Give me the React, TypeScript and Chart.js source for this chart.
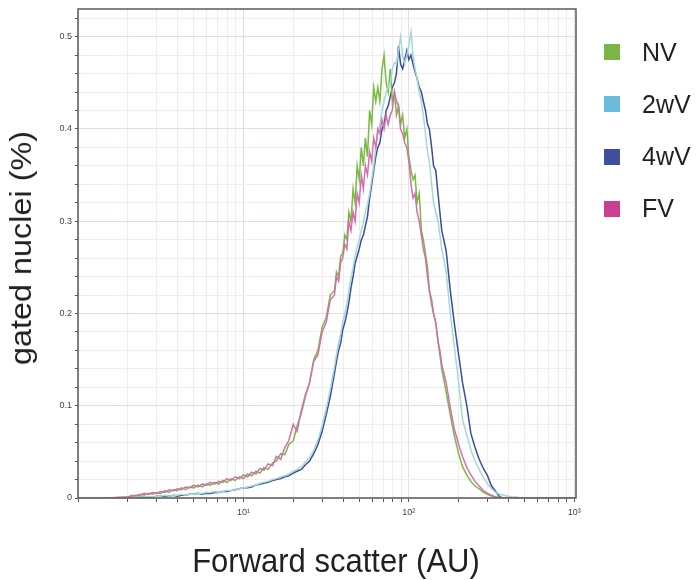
import React, { useEffect, useRef } from "react";
import { Chart, registerables } from "chart.js";

Chart.register(...registerables);

// Forward scatter channel values (AU), shared by every series
const forwardScatter = [
  1, 1.5,
  2.0, 2.11, 2.24, 2.37, 2.51, 2.66, 2.82, 2.99, 3.16, 3.35, 3.55, 3.76, 3.98, 4.22, 4.47, 4.73, 5.01, 5.31, 5.62, 5.96,
  6.31, 6.68, 7.08, 7.5, 7.94, 8.41, 8.91, 9.44,
  10.0, 10.6, 11.2, 11.9, 12.6, 13.3, 14.1, 15.0, 15.8, 16.8, 17.8, 18.8, 20.0, 21.1, 22.4, 23.7, 25.1, 26.6, 28.2, 29.9,
  31.6, 33.5, 35.5,
  36.5, 37.6, 38.7, 39.8, 41.0, 42.2, 43.4, 44.7, 46.0, 47.3, 48.7, 50.1, 51.6, 53.1, 54.6, 56.2, 57.9, 59.6, 61.3, 63.1,
  64.9, 66.8, 68.8, 70.8, 72.9, 75.0, 77.2, 79.4, 81.8, 84.1, 86.6, 89.1, 91.7, 94.4, 97.2, 100, 103, 106, 109, 112,
  115.5, 119, 122.3, 126, 129.6, 133, 137.3, 141, 145.4, 150, 154, 158,
  168, 178, 188, 200, 211, 224, 237, 251, 266, 282, 299, 316, 335, 355, 376, 398, 422, 447, 473, 501,
  700, 1024,
];

const nvValues = [
  0, 0,
  0.001, 0.003, 0.002, 0.004, 0.003, 0.005, 0.004, 0.006, 0.005, 0.008, 0.006, 0.009, 0.008, 0.011, 0.009, 0.012, 0.011, 0.014,
  0.012, 0.015, 0.014, 0.017, 0.015, 0.019, 0.017, 0.021, 0.019, 0.023,
  0.021, 0.026, 0.024, 0.029, 0.027, 0.033, 0.031, 0.038, 0.04, 0.048, 0.047, 0.058, 0.062, 0.078, 0.092, 0.11, 0.125, 0.15,
  0.16, 0.185, 0.195, 0.22, 0.225,
  0.245, 0.24, 0.262, 0.265, 0.285, 0.28, 0.31, 0.3, 0.335, 0.32, 0.36, 0.345, 0.38, 0.36, 0.39, 0.37, 0.42, 0.405, 0.445, 0.43,
  0.445, 0.43, 0.465, 0.48, 0.45, 0.44, 0.465, 0.43, 0.44, 0.415, 0.425, 0.405, 0.415, 0.39, 0.4, 0.37, 0.355, 0.345, 0.35, 0.32,
  0.33, 0.29, 0.28, 0.265, 0.25, 0.225, 0.215, 0.2, 0.19, 0.17, 0.155, 0.14,
  0.115, 0.09, 0.068, 0.048, 0.034, 0.025, 0.018, 0.013, 0.01, 0.006, 0.004, 0.002, 0.001, 0, 0, 0, 0, 0, 0, 0,
  0, 0,
];

const twoWvValues = [
  0, 0,
  0, 0, 0.001, 0.001, 0.001, 0.002, 0.001, 0.002, 0.002, 0.003, 0.002, 0.003, 0.003, 0.004, 0.003, 0.004, 0.004, 0.005,
  0.005, 0.006, 0.006, 0.007, 0.006, 0.007, 0.008, 0.008, 0.009, 0.01,
  0.011, 0.012, 0.013, 0.014, 0.016, 0.017, 0.018, 0.02, 0.021, 0.023, 0.024, 0.026, 0.029, 0.031, 0.034, 0.039, 0.044, 0.052,
  0.063, 0.078, 0.096, 0.118, 0.142,
  0.155, 0.168, 0.178, 0.19, 0.2, 0.21, 0.225, 0.238, 0.25, 0.262, 0.272, 0.28, 0.29, 0.298, 0.31, 0.318, 0.33, 0.345, 0.36, 0.38,
  0.395, 0.405, 0.42, 0.43, 0.44, 0.445, 0.45, 0.465, 0.472, 0.47, 0.485, 0.5, 0.48, 0.47, 0.48, 0.49, 0.505, 0.48, 0.465, 0.455,
  0.44, 0.43, 0.415, 0.395, 0.375, 0.365, 0.34, 0.32, 0.31, 0.3, 0.285, 0.27,
  0.245, 0.2, 0.165, 0.125, 0.085, 0.068, 0.052, 0.04, 0.031, 0.022, 0.015, 0.01, 0.006, 0.004, 0.003, 0.002, 0.001, 0.001, 0, 0,
  0, 0,
];

const fourWvValues = [
  0, 0,
  0, 0, 0.001, 0.001, 0.001, 0.001, 0.001, 0.002, 0.002, 0.002, 0.002, 0.003, 0.002, 0.003, 0.003, 0.004, 0.004, 0.005,
  0.004, 0.005, 0.005, 0.006, 0.006, 0.007, 0.007, 0.008, 0.009, 0.01,
  0.011, 0.011, 0.012, 0.014, 0.015, 0.016, 0.017, 0.019, 0.02, 0.021, 0.023, 0.024, 0.027, 0.029, 0.031, 0.036, 0.04, 0.048,
  0.058, 0.072, 0.09, 0.11, 0.135,
  0.148, 0.16, 0.168, 0.182, 0.19, 0.2, 0.212, 0.228, 0.24, 0.254, 0.262, 0.27, 0.28, 0.285, 0.295, 0.305, 0.325, 0.34, 0.355, 0.37,
  0.38, 0.385, 0.4, 0.405, 0.42, 0.425, 0.435, 0.445, 0.45, 0.46, 0.49, 0.47, 0.465, 0.475, 0.485, 0.475, 0.48, 0.47, 0.462, 0.455,
  0.445, 0.44, 0.43, 0.42, 0.405, 0.4, 0.38, 0.36, 0.355, 0.33, 0.31, 0.29,
  0.268, 0.225, 0.19, 0.155, 0.125, 0.1, 0.07, 0.055, 0.042, 0.032, 0.024, 0.013, 0.007, 0.001, 0, 0, 0, 0, 0, 0,
  0, 0,
];

const fvValues = [
  0, 0,
  0.001, 0.002, 0.003, 0.003, 0.005, 0.004, 0.006, 0.005, 0.007, 0.006, 0.009, 0.008, 0.01, 0.009, 0.012, 0.011, 0.014, 0.012,
  0.015, 0.014, 0.017, 0.015, 0.018, 0.017, 0.021, 0.019, 0.023, 0.021,
  0.025, 0.023, 0.028, 0.026, 0.032, 0.03, 0.037, 0.035, 0.045, 0.042, 0.055, 0.062, 0.08, 0.072, 0.095, 0.112, 0.125, 0.148,
  0.155, 0.18, 0.19, 0.215, 0.22,
  0.24, 0.235, 0.255, 0.26, 0.275, 0.27, 0.3, 0.29, 0.31, 0.3, 0.33, 0.32, 0.35, 0.335, 0.36, 0.35, 0.375, 0.365, 0.39, 0.38,
  0.4, 0.395, 0.41, 0.4, 0.415, 0.405, 0.415, 0.42, 0.44, 0.43, 0.425, 0.4, 0.395, 0.385, 0.38, 0.365, 0.34, 0.325, 0.33, 0.31,
  0.3, 0.285, 0.27, 0.26, 0.24, 0.225, 0.21, 0.2, 0.19, 0.17, 0.16, 0.145,
  0.125, 0.098, 0.075, 0.058, 0.045, 0.033, 0.025, 0.018, 0.013, 0.008, 0.005, 0.003, 0.001, 0, 0, 0, 0, 0, 0, 0,
  0, 0,
];

const seriesNames = ["NV", "2wV", "4wV", "FV"];
const legendColors = ["#7ab648", "#6bbde0", "#3f4f9c", "#c9408e"];
const lineColors = ["#78b944", "#a3dad3", "#3b4c9f", "#d46fae"];
const drawOrder = [3, 2, 4, 1];

const xDecades = [10, 100, 1000];
const xTickLabels = ["10\u00b9", "10\u00b2", "10\u00b3"];
const yTickValues = [0, 0.1, 0.2, 0.3, 0.4, 0.5];
const yTickLabels = ["0", "0.1", "0.2", "0.3", "0.4", "0.5"];

const xAxisTitle = "Forward scatter (AU)";
const yAxisTitle = "gated nuclei (%)";

const FONT = "'Liberation Sans', Arial, sans-serif";

export default function App() {
  const canvasRef = useRef<HTMLCanvasElement | null>(null);

  useEffect(() => {
    const canvas = canvasRef.current;
    if (!canvas) return;
    const allSeries = [nvValues, twoWvValues, fourWvValues, fvValues];

    const xTickPositions: number[] = [];
    [1, 10, 100].forEach((d) => {
      for (let m = 1; m <= 9; m++) xTickPositions.push(d * m);
    });
    xTickPositions.push(1000);

    const isDecade = (v: number) => xDecades.indexOf(Math.round(v)) >= 0 || Math.round(v) === 1;
    const isTenth = (v: number) => Math.abs(v * 10 - Math.round(v * 10)) < 1e-6;

    const framePlugin = {
      id: "frame",
      afterDatasetsDraw(chart: any) {
        const { ctx, chartArea } = chart;
        ctx.save();
        ctx.strokeStyle = "#5e5955";
        ctx.lineWidth = 1.5;
        ctx.strokeRect(chartArea.left, chartArea.top, chartArea.right - chartArea.left, chartArea.bottom - chartArea.top);
        ctx.restore();
      },
    };

    const chart = new Chart(canvas, {
      type: "line",
      data: {
        datasets: seriesNames.map((name, si) => ({
          label: name,
          data: forwardScatter.map((x, i) => ({ x, y: allSeries[si][i] })),
          borderColor: lineColors[si],
          backgroundColor: lineColors[si],
          borderWidth: 1.5,
          pointRadius: 0,
          tension: 0,
          fill: false,
          order: drawOrder[si],
        })),
      },
      options: {
        responsive: false,
        animation: false,
        events: [],
        layout: { padding: { left: 0, right: 122, top: 9, bottom: 52 } },
        plugins: { legend: { display: false }, tooltip: { enabled: false } },
        scales: {
          x: {
            type: "logarithmic",
            min: 1,
            max: 1024,
            afterBuildTicks: (scale: any) => {
              scale.ticks = xTickPositions.map((v) => ({ value: v, major: isDecade(v) }));
            },
            afterFit: (scale: any) => {
              scale.height = 30;
            },
            ticks: {
              autoSkip: false,
              maxRotation: 0,
              padding: 5,
              color: "#444",
              font: { family: FONT, size: 9 },
              callback: (value: any) => {
                const idx = xDecades.indexOf(Math.round(Number(value)));
                return idx >= 0 ? xTickLabels[idx] : "";
              },
            },
            grid: {
              drawTicks: true,
              tickLength: 4,
              lineWidth: 1,
              color: (ctx: any) => (ctx.tick && isDecade(ctx.tick.value) ? "#eadcdc" : "#f3ecec"),
              tickColor: "#555",
            },
            border: { display: false },
          },
          y: {
            type: "linear",
            min: 0,
            max: 0.53,
            afterFit: (scale: any) => {
              scale.width = 78;
            },
            ticks: {
              stepSize: 0.02,
              includeBounds: false,
              autoSkip: false,
              padding: 3,
              color: "#444",
              font: { family: FONT, size: 9 },
              callback: (value: any) => {
                const v = Number(value);
                if (!isTenth(v)) return "";
                const idx = yTickValues.findIndex((t) => Math.abs(t - v) < 1e-6);
                return idx >= 0 ? yTickLabels[idx] : "";
              },
            },
            grid: {
              drawTicks: true,
              tickLength: 3,
              lineWidth: 1,
              color: (ctx: any) => (ctx.tick && isTenth(ctx.tick.value) ? "#eadcdc" : "#f3ecec"),
              tickColor: "#555",
            },
            border: { display: false },
          },
        },
      },
      plugins: [framePlugin],
    });

    return () => chart.destroy();
  }, []);

  return (
    <div style={{ position: "absolute", left: 0, top: 0, width: 698, height: 580, background: "#fff", overflow: "hidden" }}>
      <canvas ref={canvasRef} width={698} height={580} style={{ position: "absolute", left: 0, top: 0 }} />
      <div
        style={{
          position: "absolute",
          left: 21,
          top: 248,
          transform: "translate(-50%, -50%) rotate(-90deg) scaleX(1.08)",
          whiteSpace: "nowrap",
          fontFamily: FONT,
          fontSize: 30,
          lineHeight: 1,
          color: "#231f20",
        }}
      >
        {yAxisTitle}
      </div>
      <div
        style={{
          position: "absolute",
          left: 336,
          top: 545,
          transform: "translateX(-50%) scaleY(1.05)",
          whiteSpace: "nowrap",
          fontFamily: FONT,
          fontSize: 31,
          lineHeight: 1,
          color: "#231f20",
        }}
      >
        {xAxisTitle}
      </div>
      {seriesNames.map((name, i) => (
        <div
          key={name}
          style={{
            position: "absolute",
            left: 604,
            top: 52 + i * 52.3 - 14,
            height: 28,
            display: "flex",
            alignItems: "center",
            fontFamily: FONT,
            fontSize: 25,
            color: "#231f20",
          }}
        >
          <span style={{ display: "inline-block", width: 16, height: 16, background: legendColors[i], marginRight: 22 }} />
          <span>{name}</span>
        </div>
      ))}
    </div>
  );
}
